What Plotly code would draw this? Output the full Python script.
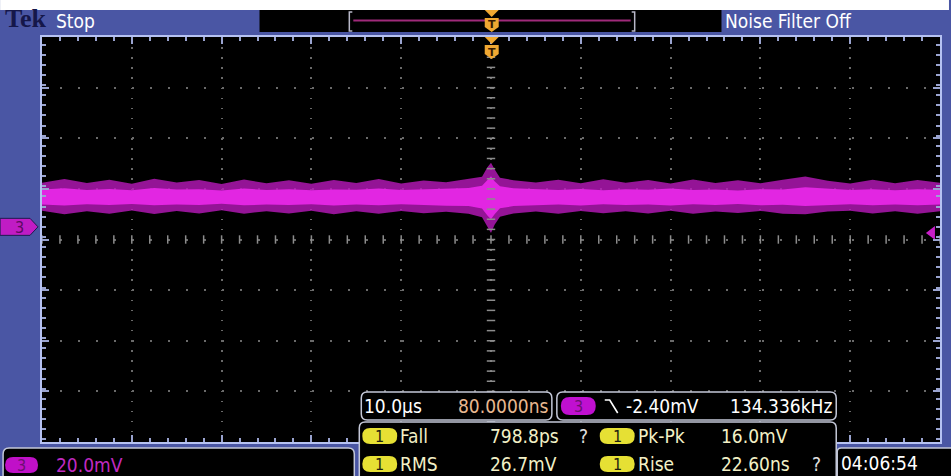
import plotly.graph_objects as go

# ---- scope settings -------------------------------------------------------
TIME_PER_DIV_US = 10.0        # horizontal scale
VOLTS_PER_DIV_MV = 20.0       # channel 3 vertical scale
GROUND_OFFSET_DIV = 0.25      # channel 3 ground marker above screen centre
TRIGGER_LEVEL_MV = -2.40
TRIGGER_POS_US = 0.08

# ---- channel 3 acquisition envelope (time in us, amplitude in mV) --------
time_us = [-50, -47.5, -45, -42.5, -40, -37.5, -35, -32.5, -30, -27.5,
           -25, -22.5, -20, -17.5, -15, -12.5, -10, -7.5, -5, -2.5,
           -1.0, -0.4, 0, 0.4, 1.0, 2.5, 5, 7.5, 10, 12.5,
           15, 17.5, 20, 22.5, 25, 27.5, 30, 32.5, 35, 37.5,
           40, 42.5, 45, 47.5, 50]
outer_hi = [17.4, 18.9, 17.3, 18.6, 17.0, 19.0, 17.5, 18.5, 16.9, 18.7,
            17.2, 18.4, 17.0, 18.5, 17.3, 18.9, 17.1, 18.3, 17.6, 18.8,
            19.8, 23.5, 25.3, 22.8, 19.4, 18.4, 17.5, 18.6, 17.2, 18.8,
            17.4, 18.5, 17.1, 18.7, 17.3, 18.4, 17.2, 18.6, 19.9, 18.2,
            17.1, 18.6, 17.2, 18.5, 17.4]
outer_lo = [6.4, 5.0, 6.2, 5.2, 6.5, 5.1, 6.3, 5.3, 6.6, 5.2,
            6.2, 5.3, 6.4, 5.0, 6.2, 5.2, 6.3, 5.4, 6.0, 5.2,
            3.8, 0.2, -2.4, 0.8, 4.0, 5.3, 6.1, 5.2, 6.3, 5.4,
            6.2, 5.3, 6.4, 5.2, 6.1, 5.5, 6.3, 5.2, 5.0, 6.1,
            6.4, 5.3, 6.2, 5.2, 6.2]
core_hi = [14.8, 15.2, 14.6, 15.0, 14.5, 15.3, 14.8, 14.9, 14.4, 15.1,
           14.6, 14.9, 14.5, 14.8, 14.7, 15.1, 14.6, 14.8, 15.0, 15.3,
           16.2, 18.6, 20.0, 18.0, 16.0, 15.2, 14.9, 14.6, 15.0, 14.5,
           14.9, 14.7, 15.1, 14.6, 14.8, 14.4, 14.9, 14.8, 15.6, 15.0,
           14.6, 14.9, 14.5, 14.9, 14.7]
core_lo = [8.8, 8.4, 8.9, 8.6, 9.0, 8.5, 8.8, 8.6, 9.1, 8.5,
           8.8, 8.6, 8.9, 8.4, 8.8, 8.5, 8.9, 8.6, 8.3, 8.2,
           7.2, 4.5, 3.0, 5.0, 7.3, 8.2, 8.5, 8.8, 8.4, 8.9,
           8.6, 8.8, 8.4, 8.9, 8.6, 9.0, 8.5, 8.7, 8.2, 8.6,
           8.9, 8.5, 8.8, 8.5, 8.8]

# ---- readouts --------------------------------------------------------------
ch_scale = "20.0mV"
timebase = "10.0µs"
trig_pos = "80.0000ns"
trig_level = "-2.40mV"
trig_freq = "134.336kHz"
meas_left = [("Fall", "798.8ps", "?"), ("RMS", "26.7mV", "")]
meas_right = [("Pk-Pk", "16.0mV", ""), ("Rise", "22.60ns", "?")]
clock = "04:06:54"

# ---- colours / fonts -------------------------------------------------------
BLUE = "#4a56a4"
MAGENTA = "#c81ec8"
YELLOW = "#e6e034"
PALE = "#f2f0c6"
FRAME = "#c4c8d8"
ORANGE = "#f0a832"
FONT = "DejaVu Sans Condensed, Liberation Sans Narrow, sans-serif"
FS = 19

W, H = 951, 476
L, R, T, B = 42, 942, 37, 442

x_rng = [-5 * TIME_PER_DIV_US, 5 * TIME_PER_DIV_US]
y_rng = [-(4 + GROUND_OFFSET_DIV) * VOLTS_PER_DIV_MV,
         (4 - GROUND_OFFSET_DIV) * VOLTS_PER_DIV_MV]
y_mid = -GROUND_OFFSET_DIV * VOLTS_PER_DIV_MV


def fx(x):
    return (x - L) / (R - L)


def fy(y):
    return (B - y) / (B - T)


def data_to_px_x(v):
    return L + (v - x_rng[0]) / (x_rng[1] - x_rng[0]) * (R - L)


def data_to_px_y(v):
    return B - (v - y_rng[0]) / (y_rng[1] - y_rng[0]) * (B - T)


shapes = []
annotations = []


def P(x, y):
    return f"{fx(x):.5f},{fy(y):.5f}"


def rect(x0, y0, x1, y1, fill, line=None, lw=0):
    shapes.append(dict(type="rect", xref="paper", yref="paper",
                       x0=fx(x0), x1=fx(x1), y0=fy(y1), y1=fy(y0),
                       fillcolor=fill, line=dict(color=line or fill, width=lw),
                       layer="above"))


def poly(pts, fill, line=None, lw=0, closed=True):
    d = "M " + " L ".join(P(x, y) for x, y in pts) + (" Z" if closed else "")
    shapes.append(dict(type="path", xref="paper", yref="paper", path=d,
                       fillcolor=fill if closed else "rgba(0,0,0,0)",
                       line=dict(color=line or fill, width=lw), layer="above"))


def rrect(x0, y0, x1, y1, r, fill, line=None, lw=0):
    d = (f"M {P(x0 + r, y0)} L {P(x1 - r, y0)} Q {P(x1, y0)} {P(x1, y0 + r)} "
         f"L {P(x1, y1 - r)} Q {P(x1, y1)} {P(x1 - r, y1)} L {P(x0 + r, y1)} "
         f"Q {P(x0, y1)} {P(x0, y1 - r)} L {P(x0, y0 + r)} Q {P(x0, y0)} {P(x0 + r, y0)} Z")
    shapes.append(dict(type="path", xref="paper", yref="paper", path=d,
                       fillcolor=fill, line=dict(color=line or fill, width=lw),
                       layer="above"))


def text(x, y, s, color, size=FS, anchor="left", family=FONT):
    annotations.append(dict(xref="paper", yref="paper", x=fx(x), y=fy(y), text=s,
                            showarrow=False, xanchor=anchor, yanchor="middle",
                            borderpad=0, font=dict(family=family, size=size, color=color)))


def pill(x0, y0, x1, y1, fill, label, label_color):
    rrect(x0, y0, x1, y1, (y1 - y0) / 2, fill)
    text((x0 + x1) / 2, (y0 + y1) / 2 + 0.5, label, label_color, size=16, anchor="center")


fig = go.Figure()

# waveform envelope: outer fringe, then bright core
fig.add_trace(go.Scatter(x=time_us + time_us[::-1], y=outer_hi + outer_lo[::-1],
                         mode="lines", fill="toself", fillcolor="rgba(185,25,188,0.8)",
                         line=dict(width=0), hoverinfo="skip"))
fig.add_trace(go.Scatter(x=time_us + time_us[::-1], y=core_hi + core_lo[::-1],
                         mode="lines", fill="toself", fillcolor="rgb(226,38,226)",
                         line=dict(width=0), hoverinfo="skip"))

# centre-line sub-division ticks of the graticule
sub_x = [x_rng[0] + i * TIME_PER_DIV_US / 5 for i in range(51)]
sub_y = [y_rng[0] + i * VOLTS_PER_DIV_MV / 5 for i in range(41)]
fig.add_trace(go.Scatter(x=sub_x, y=[y_mid] * len(sub_x), mode="markers",
                         marker=dict(symbol="line-ns", size=6,
                                     line=dict(width=1.5, color="#8c8c8c")),
                         hoverinfo="skip"))
fig.add_trace(go.Scatter(x=[0] * len(sub_y), y=sub_y, mode="markers",
                         marker=dict(symbol="line-ew", size=6,
                                     line=dict(width=1.5, color="#8c8c8c")),
                         hoverinfo="skip"))

# trigger level marker on the right edge
fig.add_trace(go.Scatter(x=[x_rng[1] - 0.9], y=[TRIGGER_LEVEL_MV], mode="markers",
                         marker=dict(symbol="triangle-left", size=12, color=MAGENTA),
                         cliponaxis=False, hoverinfo="skip"))

# ---- screen chrome ---------------------------------------------------------
rect(0, 0, W, 10, "white")
rect(260, 10, 723, 32, "black")

# record view bar with trigger position
poly([(353, 12), (350, 12), (350, 31), (353, 31)], None, line="#b8b8c8", lw=1.5, closed=False)
poly([(633, 12), (636, 12), (636, 31), (633, 31)], None, line="#b8b8c8", lw=1.5, closed=False)
poly([(354, 20.5), (632, 20.5)], None, line="#a02a7a", lw=2, closed=False)

tx = data_to_px_x(TRIGGER_POS_US)
for top in (10, 37):
    poly([(tx - 7, top), (tx + 7, top), (tx, top + 7)], ORANGE)
    poly([(tx - 7, top + 8), (tx + 7, top + 8), (tx + 7, top + 17), (tx, top + 22),
          (tx - 7, top + 17)], ORANGE)
    text(tx, top + 15, "<b>T</b>", "#3a1a00", size=11, anchor="center",
         family="DejaVu Sans")

# channel 3 ground marker on the left
gy = data_to_px_y(0)
poly([(0, gy - 8.5), (30, gy - 8.5), (38, gy), (30, gy + 8.5), (0, gy + 8.5)],
     "#c01cc4", line="#1e1a50", lw=1)
text(19, gy + 0.5, "3", "#5a0a60", size=16, anchor="center")

# status texts
text(4, 19, "<b>Tek</b>", "#15174a", size=26, family="Liberation Serif, serif")
text(55, 21, "Stop", "white")
text(726, 21, "Noise Filter Off", "white")

# channel scale panel
rrect(3, 448, 355, 482, 6, "black", line=FRAME, lw=1.5)
pill(5, 457, 38, 473, "#c010c8", "3", "#6a1070")
text(55, 465, ch_scale, "#c02ac0")

# timebase box
rrect(362, 392, 553, 420, 6, "black", line=FRAME, lw=1.5)
text(364, 406, timebase, "white")
text(551, 406, trig_pos, "#e8b890", anchor="right")

# trigger box
rrect(558, 392, 838, 420, 6, "black", line=FRAME, lw=1.5)
pill(562, 397, 597, 415, "#c010d0", "3", "#6a1070")
poly([(606, 400), (611, 400), (619, 413)], None, line="white", lw=1.6, closed=False)
text(626, 406, trig_level, "white")
text(835, 406, trig_freq, "white", anchor="right")

# measurement panel
rrect(360, 422, 838, 484, 6, "black", line=FRAME, lw=1.5)
row_y = [436, 464]
for i, (name, val, flag) in enumerate(meas_left):
    pill(363, row_y[i] - 8, 398, row_y[i] + 8, YELLOW, "1", "#202010")
    text(400, row_y[i], name, PALE)
    text(490, row_y[i], val, PALE)
    if flag:
        text(585, row_y[i], flag, "#e0e0e0", anchor="center")
for i, (name, val, flag) in enumerate(meas_right):
    pill(601, row_y[i] - 8, 636, row_y[i] + 8, YELLOW, "1", "#202010")
    text(638, row_y[i], name, PALE)
    text(722, row_y[i], val, PALE)
    if flag:
        text(818, row_y[i], flag, "#e0e0e0", anchor="center")

# clock
rrect(839, 448, 960, 484, 4, "black", line=FRAME, lw=1.5)
text(842, 463, clock, "white")

axis_common = dict(showticklabels=False, showline=True, linecolor="#b6c2f2",
                   linewidth=2, mirror="allticks", ticks="inside", ticklen=7,
                   tickwidth=1.5, tickcolor="#9aa4d0", zeroline=False,
                   showgrid=True, gridcolor="#6a6a6a", gridwidth=1.5,
                   fixedrange=True)

fig.update_xaxes(range=x_rng, tick0=0, dtick=TIME_PER_DIV_US, griddash="1.5px,8.6px",
                 minor=dict(ticks="inside", ticklen=4, tickwidth=1.5, tickcolor="#9aa4d0",
                            dtick=TIME_PER_DIV_US / 5, showgrid=False),
                 **axis_common)
fig.update_yaxes(range=y_rng, tick0=y_mid, dtick=VOLTS_PER_DIV_MV, griddash="2px,16px",
                 minor=dict(ticks="inside", ticklen=4, tickwidth=1.5, tickcolor="#9aa4d0",
                            dtick=VOLTS_PER_DIV_MV / 5, showgrid=False),
                 **axis_common)

fig.update_layout(width=W, height=H, margin=dict(l=L, r=W - R, t=T, b=H - B, pad=0),
                  paper_bgcolor=BLUE, plot_bgcolor="black", showlegend=False,
                  shapes=shapes, annotations=annotations)

fig.write_html("out.html")
